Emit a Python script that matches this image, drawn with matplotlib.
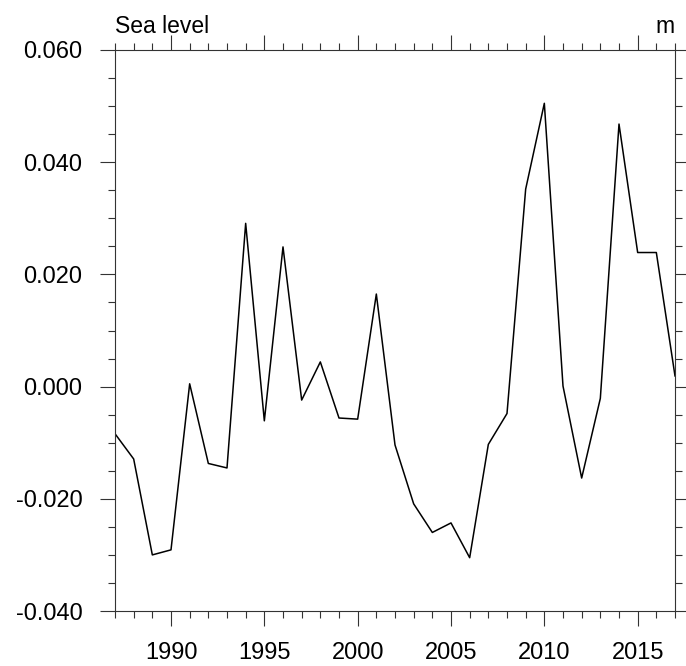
import numpy as np
import matplotlib
matplotlib.use("Agg")
import matplotlib.pyplot as plt
from matplotlib.ticker import MultipleLocator

plt.rcParams['font.family'] = ['Liberation Sans', 'DejaVu Sans']

# yearly sea level anomaly (m)
years = list(range(1987, 2018))
sea_level = [-0.0084, -0.0129, -0.0300, -0.0291, 0.0005, -0.0137, -0.0145,
             0.0291, -0.0061, 0.0249, -0.0024, 0.0044, -0.0056, -0.0058,
             0.0165, -0.0104, -0.0209, -0.0260, -0.0243, -0.0305, -0.0103,
             -0.0048, 0.0352, 0.0505, 0.0001, -0.0163, -0.0021, 0.0468,
             0.0239, 0.0239, 0.0019]

xticks = [1990, 1995, 2000, 2005, 2010, 2015]
yticks = [-0.04, -0.02, 0.0, 0.02, 0.04, 0.06]
ytick_labels = ["-0.040", "-0.020", "0.000", "0.020", "0.040", "0.060"]

fig = plt.figure(figsize=(6.86, 6.66), dpi=100)
ax = fig.add_axes([115/686, 55/666, 560/686, 561/666])

ax.plot(years, sea_level, color='black', linewidth=1.1)

ax.set_xlim(1987, 2017)
ax.set_ylim(-0.04, 0.06)
ax.set_xticks(xticks)
ax.set_xticklabels([str(x) for x in xticks])
ax.set_yticks(yticks)
ax.set_yticklabels(ytick_labels)
ax.xaxis.set_minor_locator(MultipleLocator(1))
ax.yaxis.set_minor_locator(MultipleLocator(0.005))

ax.tick_params(which='both', direction='out', top=True, right=True,
               color='#333333', width=0.8)
ax.tick_params(which='major', length=10.5, labelsize=17)
ax.tick_params(which='minor', length=5)
ax.tick_params(axis='y', which='major', pad=13)
ax.tick_params(axis='x', which='major', pad=12)

for s in ax.spines.values():
    s.set_linewidth(0.8)
    s.set_color('#333333')

ax.text(0, 1 + 17/561, "Sea level", transform=ax.transAxes,
        ha='left', va='baseline', fontsize=16.5)
ax.text(1, 1 + 17/561, "m", transform=ax.transAxes,
        ha='right', va='baseline', fontsize=16.5)

fig.savefig("out.png", dpi=100)
